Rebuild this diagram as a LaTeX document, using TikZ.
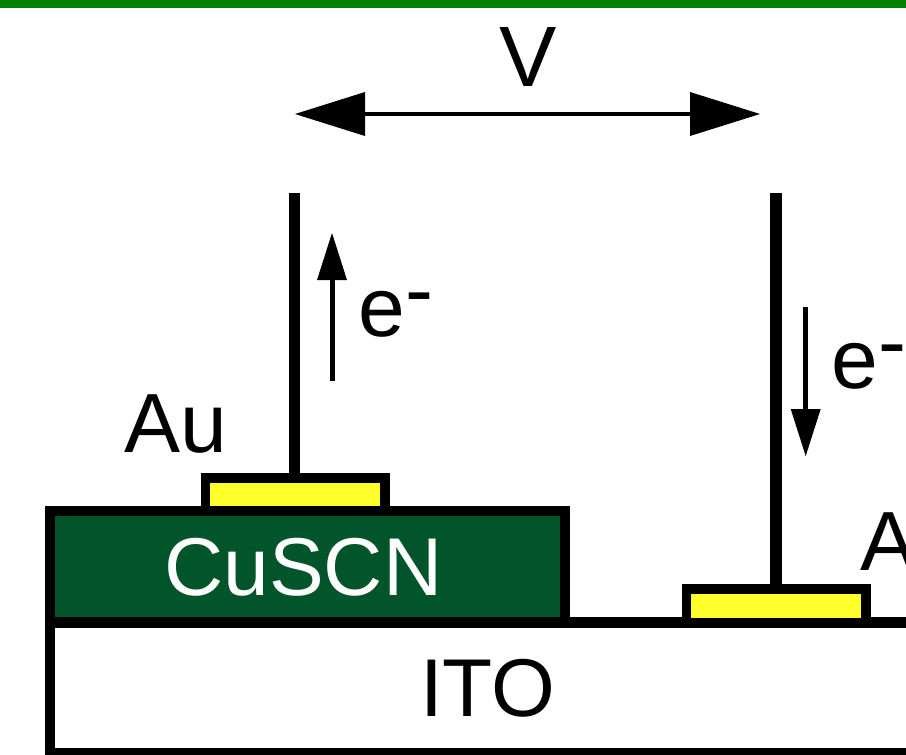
\documentclass[tikz,border=0pt]{standalone}
\usepackage{fontspec}
\setmainfont{Liberation Sans}
\usetikzlibrary{arrows.meta}
\definecolor{barGreen}{HTML}{008000}
\definecolor{cuscnGreen}{HTML}{02552A}
\definecolor{padYellow}{HTML}{FFFF2B}
\tikzset{
  lbl/.style={inner sep=0pt,outer sep=0pt,anchor=base west,font=\fontsize{82}{90}\selectfont},
  biglbl/.style={lbl,font=\fontsize{84}{90}\selectfont},
  layer/.style={draw=black,line width=10.5pt,inner sep=0pt,outer sep=0pt,line join=miter,anchor=north west},
  pad/.style={layer,fill=padYellow,line width=9.5pt,minimum width=179.5pt,minimum height=33pt,anchor=south},
  wire/.style={line width=11.5pt,line cap=butt},
  vline/.style={line width=4.5pt,{Triangle[length=70pt,width=44pt,line width=0pt]}-{Triangle[length=70pt,width=44pt,line width=0pt]},shorten <=0pt,shorten >=0pt},
  earrow/.style={line width=5pt,-{Triangle[length=47pt,width=30pt,line width=0pt]}}
}
\newcommand{\eminus}{e\raisebox{18pt}{-}}
\begin{document}
\begin{tikzpicture}[x=1pt,y=-1pt]
  \useasboundingbox (0,0) rectangle (906,755);
  \clip (0,0) rectangle (906,755);
  \fill[white] (0,0) rectangle (906,755);
  % ITO layer
  \node[layer,fill=white,minimum width=900pt,minimum height=130.5pt] (ito) at (50.2,622.5) {};
  % CuSCN layer
  \node[layer,fill=cuscnGreen,minimum width=515pt,minimum height=111.5pt] (cuscn) at (50.2,511) {};
  % Gold pads
  \node[pad] (padL) at (295,511) {};
  \node[pad,minimum height=34pt] (padR) at (776,623) {};
  % Wires
  \coordinate (wireL) at (294.3,193);
  \coordinate (wireR) at (775.8,193);
  \draw[wire] (wireL) -- (wireL |- padL.north);
  \draw[wire] (wireR) -- (wireR |- padR.north);
  % Voltage arrow
  \coordinate (vL) at (295,114);
  \coordinate (vR) at (760,114);
  \draw[vline] (vL) -- (vR);
  % Electron arrows
  \coordinate (upS) at (332,381);
  \coordinate (upE) at (332,233);
  \coordinate (dnS) at (805.7,307);
  \coordinate (dnE) at (805.7,456);
  \draw[earrow] (upS) -- (upE);
  \draw[earrow] (dnS) -- (dnE);
  % Labels
  \node[lbl,anchor=base,font=\fontsize{86}{90}\selectfont] (v) at (528,86) {V};
  \fill[white] (0,8) rectangle (906,27);
  \fill[barGreen] (0,0) rectangle (906,8);
  \node[biglbl] (auL) at (124,452) {Au};
  \node[biglbl] (auR) at (860,570.5) {Au};
  \node[biglbl] (eL) at (358.3,336.5) {\eminus};
  \node[biglbl] (eR) at (831.6,388) {\eminus};
  \node[lbl,text=white] (cu) at (164.5,595) {CuSCN};
  \node[lbl] (itoT) at (420,716) {ITO};
\end{tikzpicture}
\end{document}
